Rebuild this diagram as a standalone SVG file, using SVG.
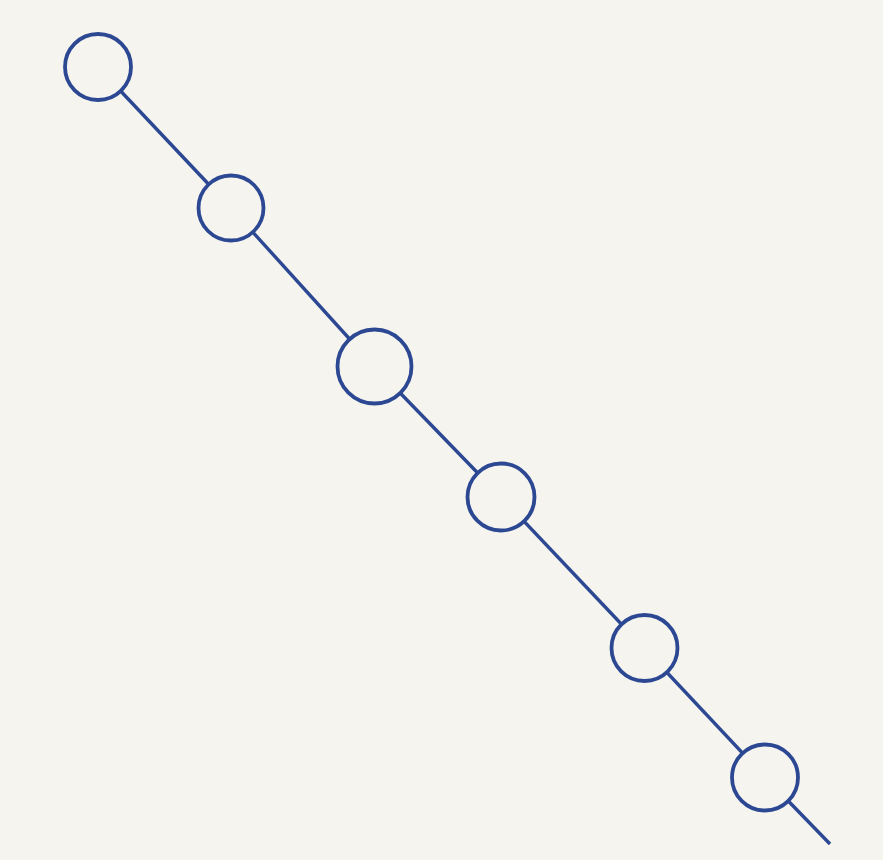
<svg xmlns="http://www.w3.org/2000/svg" width="883" height="860" viewBox="0 0 883 860">
  <style>
    .edge { stroke: #2c4893; stroke-width: 3.4; fill: none; stroke-linecap: butt; }
    .node { stroke: #2c4893; stroke-width: 3.8; fill: #f5f4ef; }
  </style>
  <rect x="0" y="0" width="883" height="860" fill="#f5f4ef"/>
  <g id="connectors">
    <line class="edge" x1="98" y1="67" x2="231" y2="208"/>
    <line class="edge" x1="231" y1="208" x2="374" y2="366"/>
    <line class="edge" x1="374" y1="366" x2="501" y2="497"/>
    <line class="edge" x1="501" y1="497" x2="644" y2="648"/>
    <line class="edge" x1="644" y1="648" x2="765" y2="777"/>
    <line class="edge" x1="765" y1="777" x2="830" y2="844"/>
  </g>
  <g id="node1"><circle class="node" cx="98" cy="67" r="33"/></g>
  <g id="node2"><circle class="node" cx="231" cy="208" r="32.5"/></g>
  <g id="node3"><circle class="node" cx="374.5" cy="366.5" r="37"/></g>
  <g id="node4"><circle class="node" cx="501" cy="497" r="33.5"/></g>
  <g id="node5"><circle class="node" cx="644.5" cy="648" r="33"/></g>
  <g id="node6"><circle class="node" cx="765" cy="777.5" r="33"/></g>
</svg>
